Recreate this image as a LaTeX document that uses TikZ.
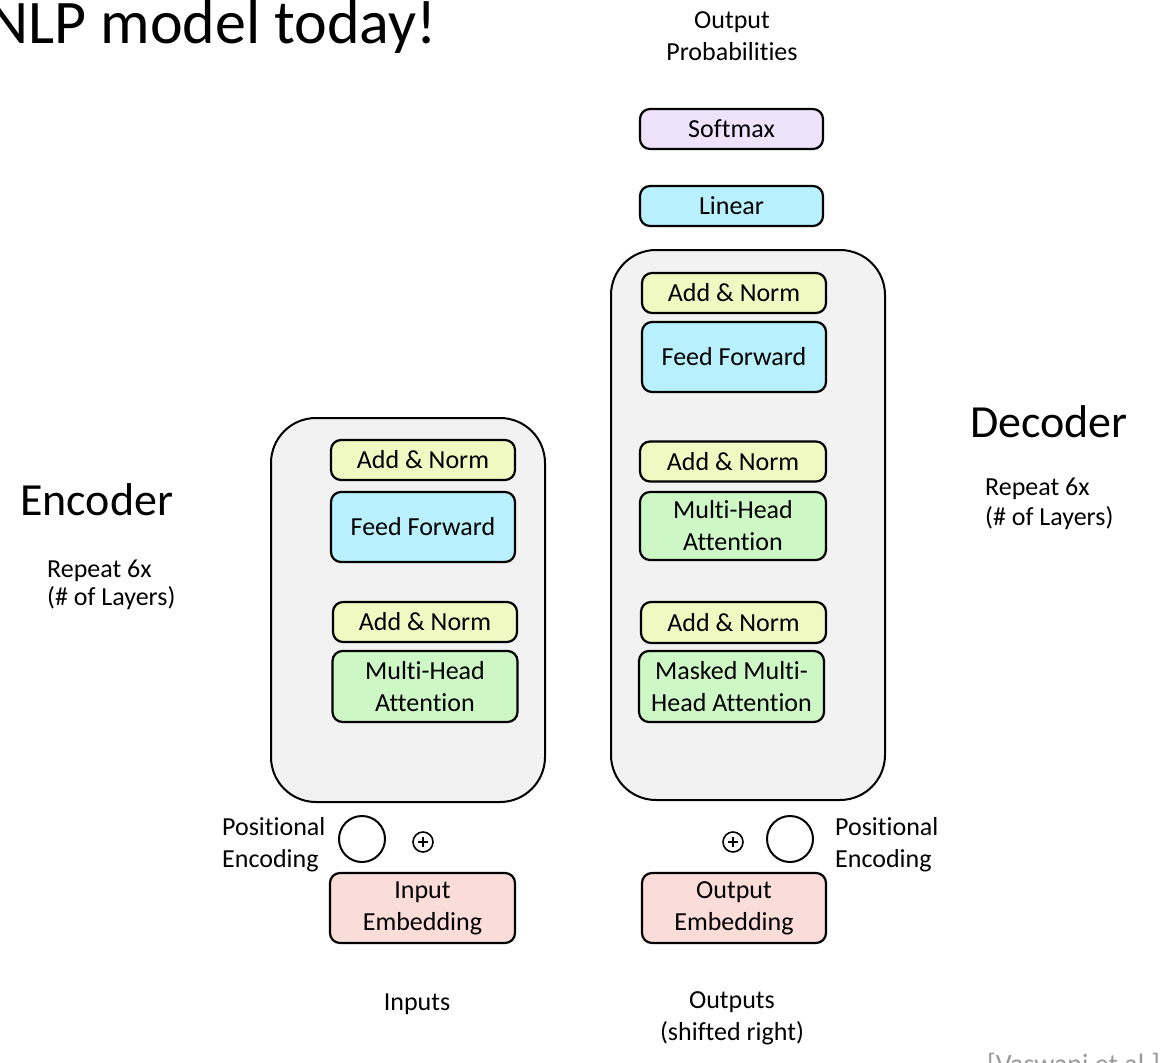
\documentclass[tikz,border=0pt]{standalone}
\usepackage{fontspec}
\setmainfont{Carlito}[Ligatures=NoCommon]
\definecolor{normfill}{RGB}{239,249,193}
\definecolor{fffill}{RGB}{184,241,253}
\definecolor{attfill}{RGB}{206,247,198}
\definecolor{smfill}{RGB}{239,226,251}
\definecolor{embfill}{RGB}{250,220,216}
\definecolor{stackfill}{RGB}{242,242,242}
\tikzset{
  txt/.style={font=\fontsize{26}{32}\selectfont, inner sep=0pt},
  blk/.style={draw=black, line width=2.2pt, rounded corners=10pt, inner sep=0pt,
    align=center, font=\fontsize{26}{32}\selectfont},
  normbox/.style={blk, fill=normfill, minimum width=184pt, minimum height=40pt},
  ffbox/.style={blk, fill=fffill, minimum width=184pt, minimum height=70pt},
  attbox/.style={blk, fill=attfill, minimum width=185pt, minimum height=71pt},
  embbox/.style={blk, fill=embfill, minimum width=185pt, minimum height=70pt},
  stack/.style={draw=black, line width=2pt, fill=stackfill, rounded corners=45pt},
  pe/.style={draw=black, line width=2pt, circle, minimum size=46pt, inner sep=0pt},
  addsym/.style={draw=black, line width=1.6pt, circle, minimum size=20pt, inner sep=0pt},
}
\begin{document}
\begin{tikzpicture}[x=1pt, y=-1pt]
\useasboundingbox (0,0) rectangle (1160,1063);

% title and side labels
\node[font=\fontsize{62}{70}\selectfont, inner sep=0pt, anchor=base east] (title) at (437,43) {NLP model today!};
\node[font=\fontsize{46}{54}\selectfont, inner sep=0pt, anchor=base west] (enclabel) at (20,515) {Encoder};
\node[font=\fontsize{46}{54}\selectfont, inner sep=0pt, anchor=base west] (declabel) at (970,437) {Decoder};
\node[txt, anchor=base west] (encrepA) at (47,577) {Repeat 6x};
\node[txt, anchor=base west] (encrepB) at (47,605) {(\# of Layers)};
\node[txt, anchor=base west] (decrepA) at (985,495) {Repeat 6x};
\node[txt, anchor=base west] (decrepB) at (985,525) {(\# of Layers)};

% encoder stack
\draw[stack] (271,418) rectangle (545,802);
\node[normbox] (encnormB) at (423,460) {Add \& Norm};
\node[ffbox]   (encff)    at (423,527) {Feed Forward};
\node[normbox] (encnormA) at (425,622) {Add \& Norm};
\node[attbox]  (encatt)   at (425,686.5) {Multi-Head\\Attention};

% decoder stack
\draw[stack] (611,250) rectangle (885,800);
\node[normbox] (decnormC) at (734,293) {Add \& Norm};
\node[ffbox]   (decff)    at (734,357) {Feed Forward};
\node[normbox, minimum width=186pt] (decnormB) at (733,461.5) {Add \& Norm};
\node[attbox, minimum width=186pt, minimum height=68pt] (decatt) at (733,526) {Multi-Head\\Attention};
\node[normbox, minimum width=185pt, minimum height=41pt] (decnormA) at (733.5,622.5) {Add \& Norm};
\node[attbox]  (decmatt)  at (731.5,686.5) {Masked Multi-\\Head Attention};

% output head
\node[blk, fill=fffill, minimum width=183pt, minimum height=40pt] (linear) at (731.5,206) {Linear};
\node[blk, fill=smfill, minimum width=183pt, minimum height=40pt] (softmax) at (731.5,129) {Softmax};
\node[txt, anchor=base] (probA) at (732,28) {Output};
\node[txt, anchor=base] (probB) at (732,60) {Probabilities};

% embeddings and positional encodings
\node[embbox] (inemb)  at (422.5,908) {Input\\Embedding};
\node[embbox, minimum width=184pt] (outemb) at (734,908) {Output\\Embedding};
\node[pe] (encpe) at (362,839) {};
\node[pe] (decpe) at (790,839) {};
\node[addsym] (encadd) at (423,842) {};
\node[addsym] (decadd) at (733,842) {};
\draw[line width=1.4pt] ([xshift=-5pt]encadd.center) -- ([xshift=5pt]encadd.center)
  ([yshift=-5pt]encadd.center) -- ([yshift=5pt]encadd.center);
\draw[line width=1.4pt] ([xshift=-5pt]decadd.center) -- ([xshift=5pt]decadd.center)
  ([yshift=-5pt]decadd.center) -- ([yshift=5pt]decadd.center);
\node[txt, anchor=base west] (encposA) at (222,835) {Positional};
\node[txt, anchor=base west] (encposB) at (222,867) {Encoding};
\node[txt, anchor=base west] (decposA) at (835,835) {Positional};
\node[txt, anchor=base west] (decposB) at (835,867) {Encoding};

% inputs and outputs
\node[txt, anchor=base] (inputs) at (417,1010) {Inputs};
\node[txt, anchor=base] (outA) at (732,1008) {Outputs};
\node[txt, anchor=base] (outB) at (732,1040) {(shifted right)};

% citation, running off the lower right edge
\node[font=\fontsize{28}{34}\selectfont, text=black!40, inner sep=0pt, anchor=base west] (cite) at (987,1073) {[Vaswani et al.]};
\end{tikzpicture}
\end{document}
